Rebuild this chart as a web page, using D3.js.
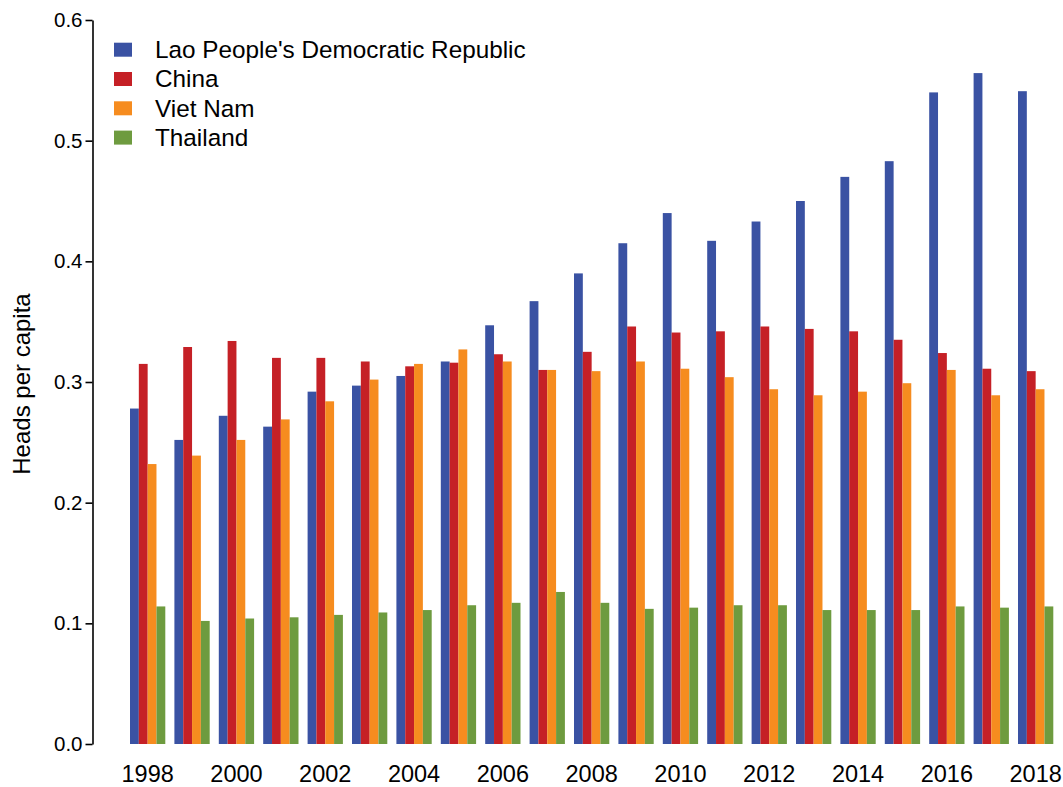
<!DOCTYPE html>
<html>
<head>
<meta charset="utf-8">
<script src="https://cdn.jsdelivr.net/npm/d3@7"></script>
<style>
  html, body { margin: 0; padding: 0; background: #fff; }
  svg { display: block; font-family: "Liberation Sans", Arial, sans-serif; }
</style>
</head>
<body>
<svg id="chart" width="1063" height="787"></svg>
<script>
const years = [1998,1999,2000,2001,2002,2003,2004,2005,2006,2007,2008,2009,2010,2011,2012,2013,2014,2015,2016,2017,2018];
const seriesNames = ["Lao People's Democratic Republic", "China", "Viet Nam", "Thailand"];
const lao      = [0.278,0.252,0.272,0.263,0.292,0.297,0.305,0.317,0.347,0.367,0.390,0.415,0.440,0.417,0.433,0.450,0.470,0.483,0.540,0.556,0.541];
const china    = [0.315,0.329,0.334,0.320,0.320,0.317,0.313,0.316,0.323,0.310,0.325,0.346,0.341,0.342,0.346,0.344,0.342,0.335,0.324,0.311,0.309];
const vietnam  = [0.232,0.239,0.252,0.269,0.284,0.302,0.315,0.327,0.317,0.310,0.309,0.317,0.311,0.304,0.294,0.289,0.292,0.299,0.310,0.289,0.294];
const thailand = [0.114,0.102,0.104,0.105,0.107,0.109,0.111,0.115,0.117,0.126,0.117,0.112,0.113,0.115,0.115,0.111,0.111,0.111,0.114,0.113,0.114];
const yTicks = [0.0,0.1,0.2,0.3,0.4,0.5,0.6];
const xTickYears = [1998,2000,2002,2004,2006,2008,2010,2012,2014,2016,2018];
const colors = ["#3A52A3", "#C52026", "#F68C1F", "#6E9B3F"];
const yTitle = "Heads per capita";

const values = [lao, china, vietnam, thailand];

const svg = d3.select("#chart");

const y = d3.scaleLinear().domain([0, 0.6]).range([744, 20]);
const x0 = d3.scaleBand().domain(years).range([130, 1053.3]).paddingInner(0.205).paddingOuter(0);
const x1 = d3.scaleBand().domain(d3.range(seriesNames.length)).range([0, x0.bandwidth()]).padding(0);

// bars
const groups = svg.append("g").selectAll("g")
  .data(years)
  .join("g")
  .attr("transform", d => `translate(${x0(d)},0)`);

groups.selectAll("rect")
  .data((yr, i) => values.map((arr, s) => ({ s, v: arr[i] })))
  .join("rect")
  .attr("x", d => x1(d.s))
  .attr("width", x1.bandwidth())
  .attr("y", d => y(d.v))
  .attr("height", d => y(0) - y(d.v))
  .attr("fill", d => colors[d.s]);

// y axis
const yAxis = d3.axisLeft(y)
  .tickValues(yTicks)
  .tickFormat(d3.format(".1f"))
  .tickSizeOuter(0)
  .tickSizeInner(7)
  .tickPadding(3);

const ya = svg.append("g")
  .attr("transform", "translate(92.5,0)")
  .call(yAxis);
ya.select(".domain").attr("stroke", "#000").attr("stroke-width", 1.6);
ya.selectAll(".tick line").attr("stroke", "#000").attr("stroke-width", 1.6);
ya.selectAll(".tick text")
  .attr("fill", "#000")
  .style("font-size", "20.5px")
  .style("font-family", "'Liberation Sans', Arial, sans-serif");

// x axis labels (no line)
const xAxis = d3.axisBottom(x0).tickValues(xTickYears).tickSize(0).tickPadding(0);
const xa = svg.append("g")
  .attr("transform", "translate(0,765)")
  .call(xAxis);
xa.select(".domain").remove();
xa.selectAll(".tick text")
  .attr("fill", "#000")
  .attr("dy", "0.71em")
  .style("font-size", "23.5px")
  .style("font-family", "'Liberation Sans', Arial, sans-serif");

// y axis title
svg.append("text")
  .attr("transform", "translate(30,384) rotate(-90)")
  .attr("text-anchor", "middle")
  .attr("fill", "#000")
  .style("font-size", "24px")
  .text(yTitle);

// legend
const legend = svg.append("g").selectAll("g")
  .data(seriesNames)
  .join("g")
  .attr("transform", (d, i) => `translate(114,${49.7 + i * 29.3})`);

legend.append("rect")
  .attr("x", 0)
  .attr("y", -7)
  .attr("width", 18)
  .attr("height", 14)
  .attr("fill", (d, i) => colors[i]);

legend.append("text")
  .attr("x", 41)
  .attr("y", 8.3)
  .attr("fill", "#000")
  .style("font-size", "24.3px")
  .text(d => d);
</script>
</body>
</html>
